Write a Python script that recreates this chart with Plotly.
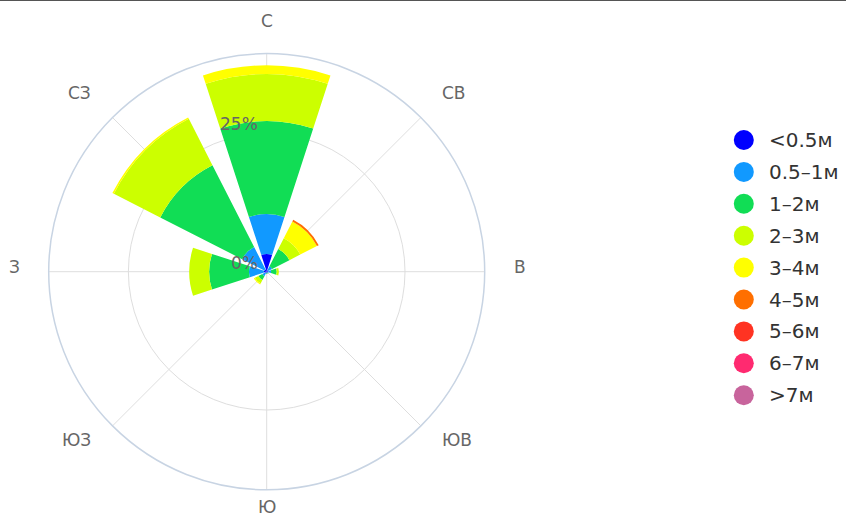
import math
import plotly.graph_objects as go

directions = ["С", "СВ", "В", "ЮВ", "Ю", "ЮЗ", "З", "СЗ"]
theta_deg = [0, 45, 90, 135, 180, 225, 270, 315]

speed_bins = ["<0.5м", "0.5–1м", "1–2м", "2–3м", "3–4м", "4–5м", "5–6м", "6–7м", ">7м"]
bin_colors = ["#0000ff", "#1199ff", "#11dd55", "#ccff00", "#ffff00",
              "#ff6f00", "#ff3322", "#ff2a70", "#c8649c"]

# frequency (%) per direction, order: С, СВ, В, ЮВ, Ю, ЮЗ, З, СЗ
v_lt05 = [3.2, 0.3, 0.3, 0.2, 0.2, 0.3, 0.5, 0.5]
v_05_1 = [7.2, 0.8, 0.5, 0.1, 0.1, 0.6, 2.7, 4.5]
v_1_2 = [16.8, 3.5, 1.0, 0.1, 0.1, 0.8, 7.2, 16.6]
v_2_3 = [8.5, 2.2, 0.4, 0.0, 0.0, 0.7, 3.6, 9.4]
v_3_4 = [1.6, 3.4, 0.0, 0.0, 0.0, 0.2, 0.0, 0.3]
v_4_5 = [0.0, 0.35, 0.0, 0.0, 0.0, 0.0, 0.0, 0.0]
v_5_6 = [0.0] * 8
v_6_7 = [0.0] * 8
v_gt7 = [0.0] * 8
series = [v_lt05, v_05_1, v_1_2, v_2_3, v_3_4, v_4_5, v_5_6, v_6_7, v_gt7]

radial_ticks = [0, 25]
radial_max = 39.4

W, H = 846, 518
cx, cy, R = 266.7, 271.7, 218.0
AXIS_FONT = dict(family="DejaVu Sans", size=17, color="#666666")

fig = go.Figure()
for name, vals, col in zip(speed_bins, series, bin_colors):
    fig.add_trace(go.Barpolar(
        r=vals, theta=theta_deg, name=name, width=36,
        marker=dict(color=col, line=dict(width=0)),
        showlegend=False, hoverinfo="name+r",
    ))

# custom legend (large circular markers)
idx = list(range(len(speed_bins)))
fig.add_trace(go.Scatter(
    x=[0] * len(speed_bins), y=idx, mode="markers",
    marker=dict(size=20, color=bin_colors, line=dict(width=0)),
    showlegend=False, hoverinfo="skip", xaxis="x", yaxis="y",
))
row0_px, row_step = 140.0, 31.9
leg_x_px = 743.8
annotations = []
for i, name in enumerate(speed_bins):
    annotations.append(dict(
        x=0, y=i, xref="x", yref="y", text=name, showarrow=False,
        xanchor="left", yanchor="middle", xshift=23,
        font=dict(family="DejaVu Sans", size=20, color="#333333"),
    ))

# compass labels around the rose
lab_r, lab_cy = 245.0, 266.5
for name, th in zip(directions, theta_deg):
    s, c = math.sin(math.radians(th)), math.cos(math.radians(th))
    xa = "center" if abs(s) < 1e-6 else ("left" if s > 0 else "right")
    yy = lab_cy - lab_r * c
    yy = min(yy, H - 11)  # keep the bottom label fully inside the page
    annotations.append(dict(
        x=(cx + lab_r * s) / W, y=1 - yy / H,
        xref="paper", yref="paper", text=name, showarrow=False,
        xanchor=xa, yanchor="middle", font=AXIS_FONT,
    ))

# radial tick labels (left of the vertical radial axis, slightly raised)
px_per_unit = R / radial_max
for v in radial_ticks:
    annotations.append(dict(
        x=(cx - 7) / W, y=1 - (cy - v * px_per_unit) / H,
        xref="paper", yref="paper", text=f"{v}%", showarrow=False,
        xanchor="right", yanchor="middle", yshift=9, font=AXIS_FONT,
    ))

fig.update_layout(
    width=W, height=H,
    margin=dict(l=0, r=0, t=0, b=0),
    paper_bgcolor="white", plot_bgcolor="white",
    font=dict(family="DejaVu Sans", size=17, color="#666666"),
    showlegend=False,
    polar=dict(
        domain=dict(x=[(cx - R) / W, (cx + R) / W],
                    y=[(H - cy - R) / H, (H - cy + R) / H]),
        bgcolor="white",
        barmode="stack",
        angularaxis=dict(
            direction="clockwise", rotation=90,
            tickmode="array", tickvals=theta_deg, ticktext=directions,
            showticklabels=False,
            showline=True, linecolor="#c8d4e3", linewidth=1.5,
            gridcolor="#dedede", ticks="",
        ),
        radialaxis=dict(
            range=[0, radial_max], angle=90,
            tickmode="array", tickvals=radial_ticks,
            showticklabels=False,
            showline=False, gridcolor="#dedede", ticks="",
        ),
    ),
    xaxis=dict(domain=[0, 1], range=[-leg_x_px, W - leg_x_px], visible=False, fixedrange=True),
    yaxis=dict(domain=[0, 1],
               range=[(H - row0_px) / row_step, -row0_px / row_step],
               visible=False, fixedrange=True),
    annotations=annotations,
    shapes=[dict(type="line", xref="paper", yref="paper", x0=0, x1=1, y0=1, y1=1,
                 line=dict(color="#555555", width=2))],
)

fig.write_html("out.html", config={"displayModeBar": False},
               post_script="document.body.style.margin='0';")
